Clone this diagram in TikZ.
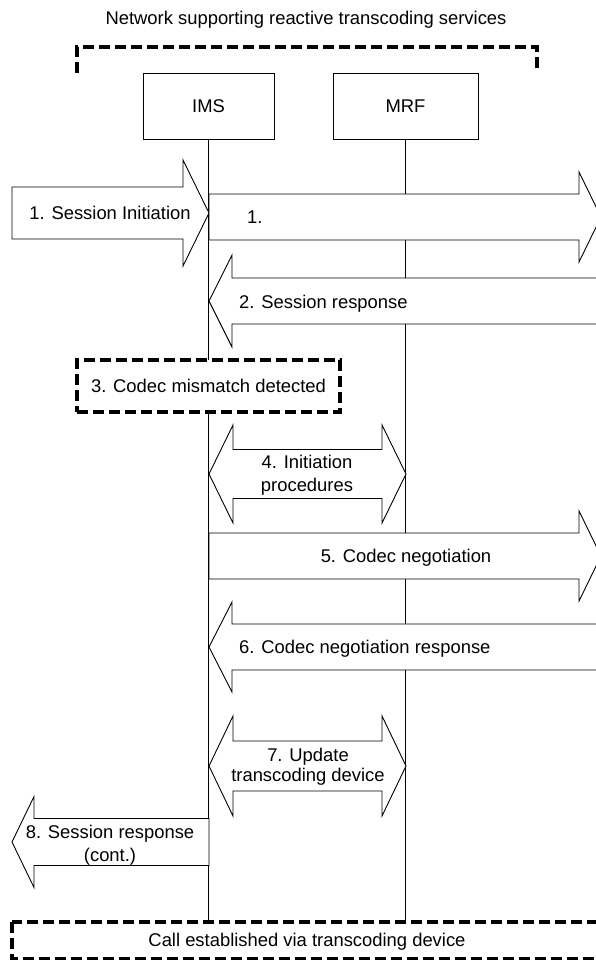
\documentclass[tikz,border=0pt]{standalone}
\usepackage{fontspec}
\setmainfont{Liberation Sans}
\newcommand\blkR[6]{\draw[blk] (#1,#3-#4) -- (#2-#6,#3-#4) -- (#2-#6,#3-#5) -- (#2,#3) -- (#2-#6,#3+#5) -- (#2-#6,#3+#4) -- (#1,#3+#4) -- cycle;}
\newcommand\blkL[6]{\draw[blk] (#2,#3-#4) -- (#1+#6,#3-#4) -- (#1+#6,#3-#5) -- (#1,#3) -- (#1+#6,#3+#5) -- (#1+#6,#3+#4) -- (#2,#3+#4) -- cycle;}
\newcommand\blkLR[6]{\draw[blk] (#1,#3) -- (#1+#6,#3-#5) -- (#1+#6,#3-#4) -- (#2-#6,#3-#4) -- (#2-#6,#3-#5) -- (#2,#3) -- (#2-#6,#3+#5) -- (#2-#6,#3+#4) -- (#1+#6,#3+#4) -- (#1+#6,#3+#5) -- cycle;}
\begin{document}
\begin{tikzpicture}[x=1pt,y=-1pt,
  lbl/.style={inner sep=0pt, font=\fontsize{18.4}{22}\selectfont},
  blk/.style={draw, fill=white, line width=0.9pt, line join=miter},
  dashline/.style={line width=3.2pt, dash pattern=on 11pt off 5pt},
  entity/.style={draw, line width=0.9pt, fill=white, inner sep=0pt, minimum height=66pt, font=\fontsize{18.4}{22}\selectfont},
  life/.style={line width=0.9pt}]
\useasboundingbox (0,0) rectangle (596,960);
% title and bracket
\node[lbl, anchor=base] (title) at (306,25) {Network supporting reactive transcoding services};
\draw[dashline] (77,73) -- (77,47) -- (537,47) -- (537,73);
% entities
\node[entity, minimum width=131pt] (ims) at (208.5,106) {IMS};
\node[entity, minimum width=145pt] (mrf) at (405.5,106.5) {MRF};
\coordinate (bot) at (0,922);
\draw[life] (ims.south) -- (ims.south |- bot);
\draw[life] (mrf.south) -- (mrf.south |- bot);
% 1
\blkR{12}{209}{213}{26}{53}{26}
\node[lbl, anchor=base] (m1a) at (110,219) {1. Session Initiation};
\blkR{209}{601}{217}{23}{45}{22}
\node[lbl, anchor=base west] (m1b) at (247,223) {1.};
% 2
\blkL{209}{615}{301}{23}{46}{23}
\node[lbl, anchor=base west] (m2) at (239,308) {2. Session response};
% 3
\node[draw, dashline, fill=white, minimum width=263pt, minimum height=52pt, inner sep=0pt, font=\fontsize{18.4}{22}\selectfont] (m3) at (208.5,386) {3. Codec mismatch detected};
% 4
\blkLR{209}{406}{474}{24.5}{49}{24}
\node[lbl, align=center, font=\fontsize{18.4}{23}\selectfont] (m4) at (307,475) {4. Initiation\\procedures};
% 5
\blkR{209}{601}{556}{23}{45}{22}
\node[lbl, anchor=base] (m5) at (406,562) {5. Codec negotiation};
% 6
\blkL{209}{615}{647}{23}{45}{23}
\node[lbl, anchor=base west] (m6) at (239,653) {6. Codec negotiation response};
% 7
\blkLR{209}{406}{766}{25}{50}{24}
\node[lbl, align=center, font=\fontsize{18.4}{20}\selectfont] (m7) at (308,766.5) {7. Update\\transcoding device};
% 8
\blkL{12}{209}{842}{23.5}{45.5}{22}
\node[lbl, align=center, font=\fontsize{18.4}{23}\selectfont] (m8) at (110,845) {8. Session response\\(cont.)};
% call established
\draw[dashline, fill=white] (12,922) rectangle (620,959);
\node[lbl, anchor=base] (call) at (307,946) {Call established via transcoding device};
\end{tikzpicture}
\end{document}
